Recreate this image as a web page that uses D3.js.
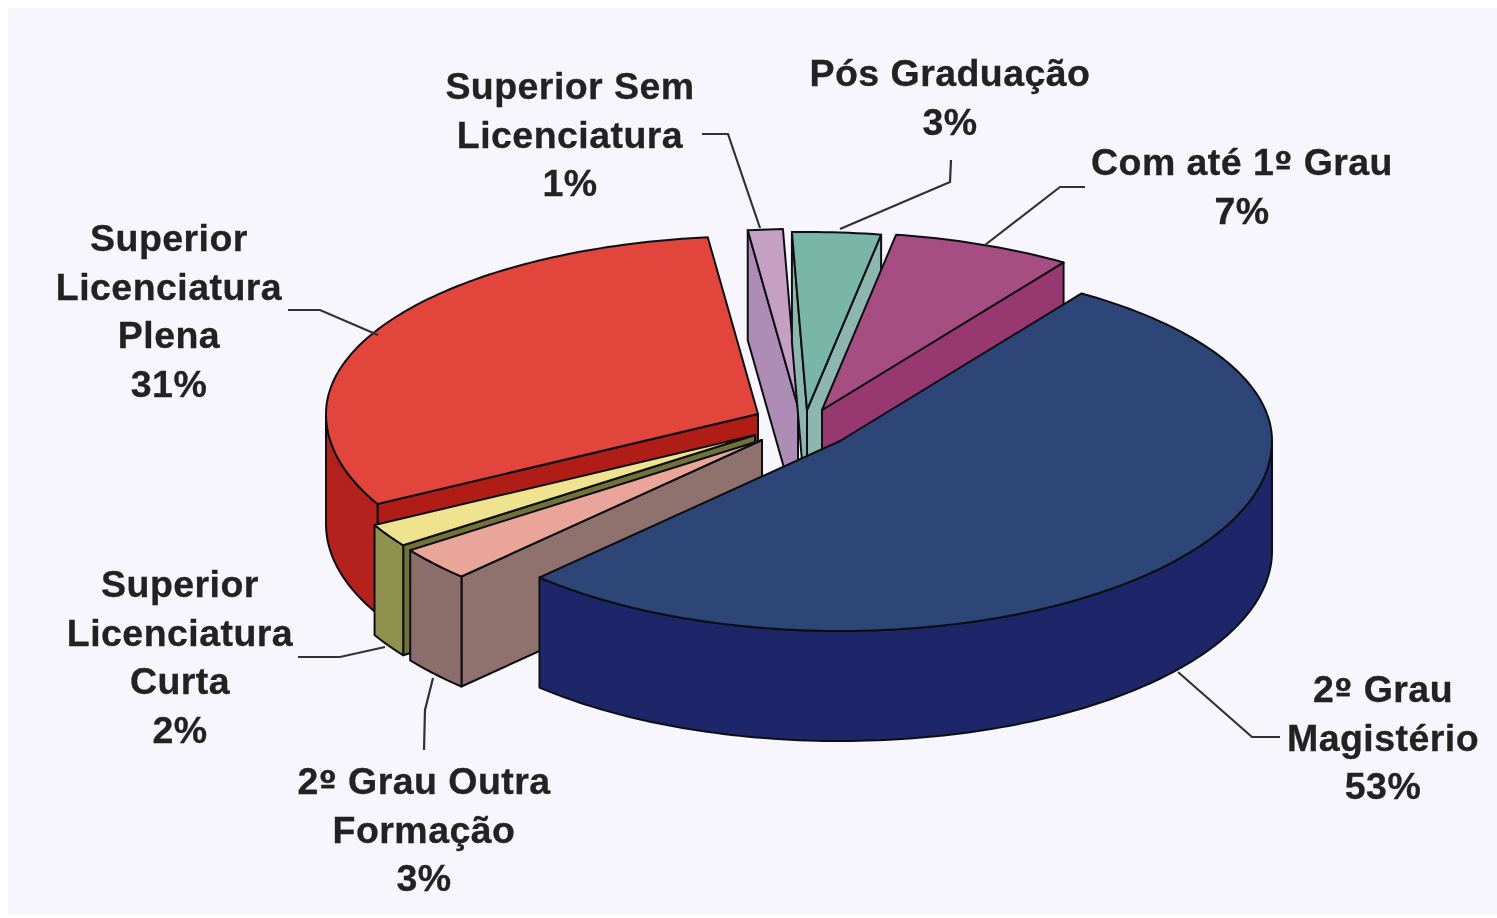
<!DOCTYPE html>
<html>
<head>
<meta charset="utf-8">
<script src="https://cdn.jsdelivr.net/npm/d3@7"></script>
<style>
  html, body { margin: 0; padding: 0; background: #fff; }
  svg { display: block; }
  text { font-family: "Liberation Sans", Arial, sans-serif; font-weight: bold; font-size: 37.5px; letter-spacing: 0.45px; fill: #222; stroke: #222; stroke-width: 0.3px; text-anchor: middle; }
  .ord { font-family: "DejaVu Sans", sans-serif; font-size: 32px; }
</style>
</head>
<body>
<div id="chart"></div>
<script>
// slices go clockwise, starting with the big blue one
const categories = [
    ["2º Grau", "Magistério"],
    ["2º Grau Outra", "Formação"],
    ["Superior", "Licenciatura", "Curta"],
    ["Superior", "Licenciatura", "Plena"],
    ["Superior Sem", "Licenciatura"],
    ["Pós Graduação"],
    ["Com até 1º Grau"]
]
// the labels show them rounded
const values = [52.8, 2.9, 2.0, 31.0, 1.3, 3.3, 6.7]

const topColors = ["#2d4478", "#e9a59a", "#efe38f", "#e2443b", "#c5a0c2", "#7ab6a5", "#a64e82"]
const radialColors = ["#1e2b6a", "#8f716d", "#6f7238", "#b01f18", "#ad8cb6", "#8cb6ae", "#97386f"]
const rimColors = ["#1c2868", "#8c6e6b", "#8f914f", "#b3201a", "#ad8cb6", "#8cb6ae", "#97386f"]

const explodeX = [40, -38, -45, -42, -2, 7, 22]
const explodeY = [16, 15, 10, -11, -18, -15, -15]
const drawOrder = [4, 5, 6, 3, 2, 1, 0]

const labelX = [1383, 424, 180, 169, 570, 950, 1242]
const labelY = [689, 781, 584, 238, 86, 73, 162]
const leaders = [
    [[1280, 737], [1252, 737], [1178, 672]],
    [[424, 750], [425, 710], [433, 678]],
    [[298, 657], [340, 657], [385, 647]],
    [[288, 310], [320, 310], [378, 335]],
    [[702, 134], [728, 134], [760, 228]],
    [[951, 160], [950, 182], [840, 229]],
    [[1085, 187], [1060, 187], [985, 245]]
]

const WIDTH = 1497, HEIGHT = 918
const CX = 800, CY = 425
const RX = 432, RY_BACK = 178, RY_FRONT = 190
const DEPTH = 110
const START = 34 * Math.PI / 180

const svg = d3.select("#chart").append("svg")
    .attr("width", WIDTH)
    .attr("height", HEIGHT)

svg.append("defs").append("filter")
    .attr("id", "scan")
    .append("feGaussianBlur")
    .attr("stdDeviation", 0.7)

svg.append("rect")
    .attr("x", 8).attr("y", 8)
    .attr("width", WIDTH - 8).attr("height", HEIGHT - 11)
    .attr("fill", "#f6f6fc")

const root = svg.append("g").attr("filter", "url(#scan)")

const arcs = d3.pie()
    .sort(null)
    .value(d => d)
    .startAngle(START)
    .endAngle(START + 2 * Math.PI)(values)

const scaleX = d3.scaleLinear().domain([-1, 1]).range([-RX, RX])
const scaleBack = d3.scaleLinear().domain([0, 1]).range([0, -RY_BACK])
const scaleFront = d3.scaleLinear().domain([-1, 0]).range([RY_FRONT, 0])

function rim(i, a, z = 0) {
    const c = Math.cos(a)
    return [
        CX + explodeX[i] + scaleX(Math.sin(a)),
        CY + explodeY[i] + (c > 0 ? scaleBack(c) : scaleFront(c)) + z
    ]
}

function apex(i, z = 0) {
    return [CX + explodeX[i], CY + explodeY[i] + z]
}

function arcAngles(a0, a1) {
    const n = Math.max(2, Math.ceil((a1 - a0) / 0.02))
    return d3.range(n + 1).map(k => a0 + (a1 - a0) * k / n)
}

const line = d3.line()
function closed(pts) { return line(pts) + "Z" }

// front part of the rim, only where cos < 0
function rimWall(i, a0, a1) {
    const lo = Math.max(a0, Math.PI / 2), hi = Math.min(a1, 3 * Math.PI / 2)
    const lo2 = Math.max(a0, Math.PI / 2 + 2 * Math.PI), hi2 = Math.min(a1, 3 * Math.PI / 2 + 2 * Math.PI)
    const walls = []
    ;[[lo, hi], [lo2, hi2]].forEach(([s, e]) => {
        if (e <= s) return
        const as = arcAngles(s, e)
        walls.push(closed(as.map(a => rim(i, a)).concat(as.slice().reverse().map(a => rim(i, a, DEPTH)))))
    })
    return walls
}

function radialWall(i, a) {
    return closed([apex(i), rim(i, a), rim(i, a, DEPTH), apex(i, DEPTH)])
}

const slices = root.selectAll("g.slice")
    .data(drawOrder)
    .join("g")
    .attr("class", "slice")
    .attr("stroke", "#101014")
    .attr("stroke-width", 2)
    .attr("stroke-linejoin", "round")

slices.each(function(i) {
    const g = d3.select(this)
    const { startAngle: a0, endAngle: a1 } = arcs[i]

    if (Math.sin(a0) < 0) g.append("path").attr("d", radialWall(i, a0)).attr("fill", radialColors[i])
    if (Math.sin(a1) > 0) g.append("path").attr("d", radialWall(i, a1)).attr("fill", radialColors[i])

    rimWall(i, a0, a1).forEach(d => {
        g.append("path").attr("d", d).attr("fill", rimColors[i])
    })

    const topFace = [apex(i)].concat(arcAngles(a0, a1).map(a => rim(i, a)))
    g.append("path").attr("d", closed(topFace)).attr("fill", topColors[i])
})

root.selectAll("path.leader")
    .data(leaders)
    .join("path")
    .attr("class", "leader")
    .attr("d", line)
    .attr("fill", "none")
    .attr("stroke", "#333")
    .attr("stroke-width", 2.2)

const percent = d3.format(".0%")
const LINE_H = 48.7

root.selectAll("text.label")
    .data(categories)
    .join("text")
    .attr("class", "label")
    .each(function(lines, i) {
        const t = d3.select(this)
        lines.concat(percent(values[i] / 100)).forEach((s, k) => {
            const row = t.append("tspan")
                .attr("x", labelX[i])
                .attr("y", labelY[i] + k * LINE_H + 13)
            // the ordinal sign has its underline only in DejaVu
            s.split(/(º)/).forEach(part => {
                if (!part) return
                row.append("tspan").attr("class", part === "º" ? "ord" : null).text(part)
            })
        })
    })
</script>
</body>
</html>
